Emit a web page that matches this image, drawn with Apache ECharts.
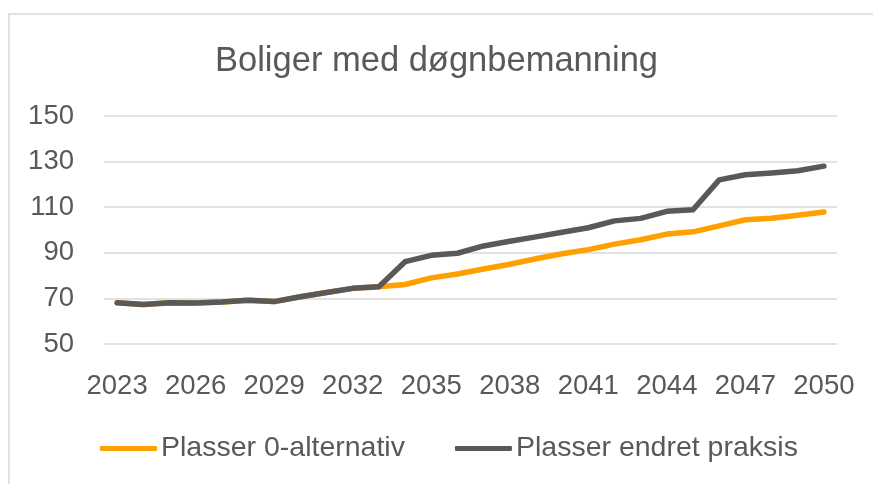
<!DOCTYPE html>
<html>
<head>
<meta charset="utf-8">
<script src="https://cdn.jsdelivr.net/npm/echarts@6/dist/echarts.min.js"></script>
<style>
  html, body { margin: 0; padding: 0; background: #fff; }
  #chart { width: 873px; height: 484px; }
</style>
</head>
<body>
<div id="chart"></div>
<script>
// years on the x axis
const years = [
  "2023", "2024", "2025", "2026", "2027", "2028", "2029", "2030", "2031", "2032",
  "2033", "2034", "2035", "2036", "2037", "2038", "2039", "2040", "2041", "2042",
  "2043", "2044", "2045", "2046", "2047", "2048", "2049", "2050"
];
// Plasser 0-alternativ
const nullAlternativ = [
  68.1, 67.3, 68.1, 68.0, 68.4, 69.2, 68.6, 70.7, 72.6, 74.4,
  75.1, 76.1, 79.0, 80.7, 82.9, 85.0, 87.4, 89.6, 91.4, 93.8,
  95.7, 98.2, 99.2, 101.8, 104.5, 105.2, 106.5, 107.9
];
// Plasser endret praksis
const endretPraksis = [
  68.1, 67.3, 68.1, 68.0, 68.4, 69.2, 68.6, 70.7, 72.6, 74.4,
  75.1, 86.1, 88.9, 89.8, 93.0, 95.1, 97.0, 99.0, 101.0, 104.0,
  105.1, 108.2, 108.9, 122.0, 124.2, 125.0, 126.0, 128.0
];
const seriesNames = ["Plasser 0-alternativ", "Plasser endret praksis"];

const font = "'Liberation Sans', Arial, sans-serif";
const textColor = "#595959";

let chart = echarts.init(document.getElementById("chart"));
let option = {
  backgroundColor: "#fff",
  animation: false,
  title: {
    text: "Boliger med døgnbemanning",
    left: "center",
    top: 39,
    textStyle: {
      fontFamily: font,
      fontSize: 34.5,
      fontWeight: "normal",
      color: textColor
    }
  },
  graphic: [
    {
      type: "rect",
      shape: { x: 9, y: 14, width: 900, height: 500 },
      style: { fill: "none", stroke: "#d9d9d9", lineWidth: 1.5 },
      silent: true
    }
  ],
  legend: {
    data: seriesNames,
    left: 100,
    top: 434,
    padding: 0,
    icon: "roundRect",
    itemWidth: 57,
    itemHeight: 5,
    itemGap: 50,
    textStyle: {
      fontFamily: font,
      fontSize: 28.5,
      color: textColor,
      padding: [0, 0, 0, -1]
    }
  },
  grid: {
    left: 104,
    right: 36,
    top: 116,
    bottom: 140
  },
  xAxis: {
    type: "category",
    data: years,
    boundaryGap: true,
    axisLine: { show: false },
    axisTick: { show: false },
    axisLabel: {
      interval: 2,
      margin: 28,
      fontFamily: font,
      fontSize: 27.5,
      color: textColor
    }
  },
  yAxis: {
    type: "value",
    min: 50,
    max: 150,
    interval: 20,
    axisLine: { show: false },
    axisTick: { show: false },
    axisLabel: {
      margin: 30,
      fontFamily: font,
      fontSize: 27.5,
      color: textColor
    },
    splitLine: {
      lineStyle: { color: "#d9d9d9", width: 1.5 }
    }
  },
  series: [
    {
      name: seriesNames[0],
      type: "line",
      data: nullAlternativ,
      symbol: "none",
      lineStyle: { color: "#ffa000", width: 5.5, cap: "round", join: "round" },
      itemStyle: { color: "#ffa000" }
    },
    {
      name: seriesNames[1],
      type: "line",
      data: endretPraksis,
      symbol: "none",
      lineStyle: { color: "#595959", width: 5.5, cap: "round", join: "round" },
      itemStyle: { color: "#595959" }
    }
  ]
};
chart.setOption(option);
</script>
</body>
</html>
